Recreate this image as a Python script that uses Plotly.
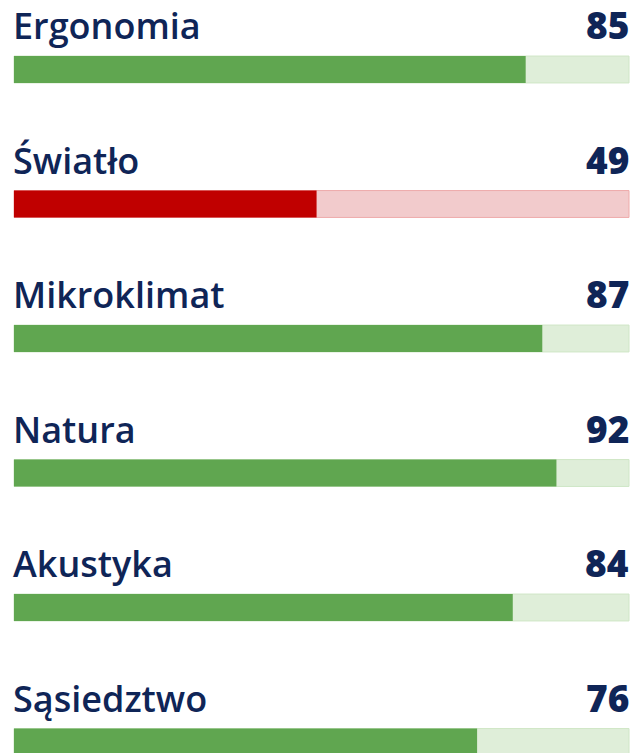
import plotly.graph_objects as go

categories = ["Ergonomia", "Światło", "Mikroklimat", "Natura", "Akustyka", "Sąsiedztwo"]
scores = [85, 49, 87, 92, 84, 76]
bar_fill = [83.2, 49.2, 85.9, 88.2, 81.1, 75.3]
track_max = [100, 100, 100, 100, 100, 100]
status = ["good", "bad", "good", "good", "good", "good"]

FILL = {"good": "#60a650", "bad": "#c00000"}
TRACK = {"good": "#dfeed9", "bad": "#f2cbcc"}
TRACK_LINE = {"good": "#cfe6c6", "bad": "#eeaaaa"}
NAVY = "#0f2557"

ys = list(range(len(categories)))
BAR_W = 0.2

fig = go.Figure()
fig.add_trace(go.Bar(
    x=track_max, y=ys, orientation="h", width=BAR_W,
    marker=dict(color=[TRACK[s] for s in status],
                line=dict(color=[TRACK_LINE[s] for s in status], width=1)),
    hoverinfo="skip", showlegend=False,
))
fig.add_trace(go.Bar(
    x=bar_fill, y=ys, orientation="h", width=BAR_W,
    marker=dict(color=[FILL[s] for s in status], line=dict(width=0)),
    hoverinfo="skip", showlegend=False,
))

annotations = []
for i, (c, s) in enumerate(zip(categories, scores)):
    annotations.append(dict(
        x=0, y=i, xref="x", yref="y", xanchor="left", yanchor="middle",
        yshift=44, xshift=-3, text=c, showarrow=False,
        font=dict(family="Open Sans", size=36, color=NAVY, weight=600),
    ))
    annotations.append(dict(
        x=100, y=i, xref="x", yref="y", xanchor="right", yanchor="middle",
        yshift=45, xshift=2, text=str(s), showarrow=False,
        font=dict(family="Open Sans", size=37, color=NAVY, weight=800),
    ))

px_per_unit = 615 / 100
fig.update_layout(
    width=634, height=753,
    margin=dict(l=0, r=0, t=0, b=0),
    paper_bgcolor="white", plot_bgcolor="white",
    barmode="overlay",
    xaxis=dict(range=[-14 / px_per_unit, 100 + 5 / px_per_unit], visible=False, fixedrange=True),
    yaxis=dict(range=[(753 - 69.5) / 134.5, -69.5 / 134.5], visible=False, fixedrange=True),
    annotations=annotations,
)

fig.write_html("out.html")
